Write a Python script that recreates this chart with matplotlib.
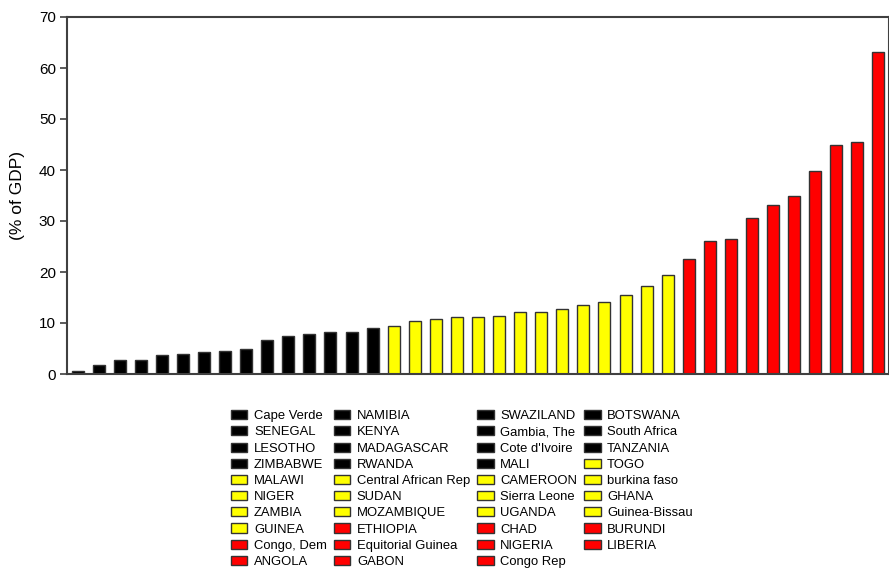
import matplotlib.pyplot as plt
from matplotlib.patches import Patch

# countries in bar order (sorted ascending)
countries = [
    'Cape Verde', 'NAMIBIA', 'SWAZILAND', 'BOTSWANA',
    'SENEGAL', 'KENYA', 'Gambia, The', 'South Africa',
    'LESOTHO', 'MADAGASCAR', "Cote d'Ivoire", 'TANZANIA',
    'ZIMBABWE', 'RWANDA', 'MALI', 'TOGO',
    'MALAWI', 'Central African Rep', 'CAMEROON', 'burkina faso',
    'NIGER', 'SUDAN', 'Sierra Leone', 'GHANA',
    'ZAMBIA', 'MOZAMBIQUE', 'UGANDA', 'Guinea-Bissau',
    'GUINEA', 'ETHIOPIA', 'CHAD', 'BURUNDI',
    'Congo, Dem', 'Equitorial Guinea', 'NIGERIA', 'LIBERIA',
    'ANGOLA', 'GABON', 'Congo Rep',
]

# values, % of GDP
black_vals = [0.5, 1.8, 2.7, 2.7, 3.7, 4.0, 4.3, 4.5, 5.0, 6.7, 7.4, 7.8, 8.3, 8.3, 9.1]
yellow_vals = [9.5, 10.3, 10.8, 11.2, 11.2, 11.4, 12.2, 12.2, 12.7, 13.6, 14.1, 15.4, 17.3, 19.4]
red_vals = [22.6, 26.1, 26.4, 30.5, 33.1, 35.0, 39.8, 44.9, 45.4, 63.1]

values = black_vals + yellow_vals + red_vals
colors = (['#000000'] * len(black_vals) + ['#FFFF00'] * len(yellow_vals)
          + ['#FF0000'] * len(red_vals))

plt.rcParams['font.family'] = ['Liberation Sans', 'DejaVu Sans']

fig = plt.figure(figsize=(8.89, 5.68), dpi=100)
ax = fig.add_axes([67 / 889, 1 - 374 / 568, 1 - 67 / 889, 357 / 568])

x = range(len(values))
ax.bar(x, values, width=0.57, color=colors, edgecolor='#333333', linewidth=1)

ax.set_xlim(-0.5, len(values) - 0.5)
ax.set_ylim(0, 70)
ax.set_yticks(range(0, 71, 10))
ax.set_xticks([])
ax.tick_params(axis='y', direction='out', length=5, width=1.2, color='#404040',
               labelsize=11, pad=3)
ax.set_ylabel('(% of GDP)', fontsize=12.5, labelpad=10)
for s in ['left', 'bottom', 'top', 'right']:
    ax.spines[s].set_color('#404040')
    ax.spines[s].set_linewidth(1.5)

# legend: matplotlib fills column-major, reference reads row-major
ncol = 4
nrow = (len(countries) + ncol - 1) // ncol
order = []
for c in range(ncol):
    for r in range(nrow):
        i = r * ncol + c
        if i < len(countries):
            order.append(i)
handles = [Patch(facecolor=colors[i], edgecolor='#333333', linewidth=1) for i in order]
labels = [countries[i] for i in order]
fig.legend(handles, labels, ncol=ncol, loc='upper left',
           bbox_to_anchor=(222 / 889, 1 - 401 / 568), frameon=False,
           fontsize=9.4, handlelength=1.25, handleheight=0.7, handletextpad=0.5,
           columnspacing=0.55, labelspacing=0.31, borderpad=0.2)

plt.savefig('out.png', dpi=100)
